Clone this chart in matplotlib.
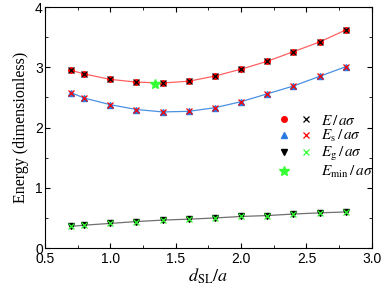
import matplotlib
matplotlib.use("Agg")
import matplotlib.pyplot as plt
from matplotlib.lines import Line2D
from matplotlib.legend_handler import HandlerTuple
from matplotlib.ticker import MultipleLocator

# data
d = [0.7, 0.8, 1.0, 1.2, 1.4, 1.6, 1.8, 2.0, 2.2, 2.4, 2.6, 2.8]
E = [2.95, 2.89, 2.80, 2.755, 2.74, 2.77, 2.855, 2.97, 3.10, 3.26, 3.42, 3.62]
Es = [2.58, 2.49, 2.38, 2.30, 2.26, 2.27, 2.33, 2.43, 2.56, 2.69, 2.85, 3.01]
Eg = [0.36, 0.38, 0.41, 0.44, 0.465, 0.48, 0.50, 0.525, 0.54, 0.565, 0.585, 0.60]
d_min = [1.34]
E_min = [2.72]

plt.rcParams['mathtext.fontset'] = 'stix'

fig = plt.figure(figsize=(3.81, 2.95), dpi=100)
ax = fig.add_axes([0.118, 0.159, 0.858, 0.817])

ax.plot(d, E, color='#ff6060', lw=0.9, zorder=1)
ax.plot(d, Es, color='#4a90e2', lw=0.9, zorder=1)
ax.plot(d, Eg, color='#707070', lw=0.9, zorder=1)

ms = 4
ax.plot(d, E, 'o', color='red', ms=ms, zorder=2)
ax.plot(d, E, 'x', color='black', ms=ms, mew=0.9, zorder=3)
ax.plot(d, Es, '^', color='#2a7ae2', ms=ms, zorder=2)
ax.plot(d, Es, 'x', color='red', ms=ms, mew=0.9, zorder=3)
ax.plot(d, Eg, 'v', color='black', ms=ms, zorder=2)
ax.plot(d, Eg, 'x', color='#33ff33', ms=ms, mew=0.9, zorder=3)
ax.plot(d_min, E_min, '*', color='#33ff33', ms=7, zorder=4)

ax.set_xlim(0.5, 3.0)
ax.set_ylim(0, 4)
ax.xaxis.set_minor_locator(MultipleLocator(0.25))
ax.yaxis.set_minor_locator(MultipleLocator(0.5))
ax.tick_params(which='both', direction='in', top=True, right=True,
               labelsize=10, pad=1.5)
ax.tick_params(axis='x', pad=2.5)
ax.tick_params(which='major', length=3.5)
ax.tick_params(which='minor', length=2)
ax.set_xticks([0.5, 1.0, 1.5, 2.0, 2.5, 3.0])
ax.set_xticklabels(['0.5', '1.0', '1.5', '2.0', '2.5', '3.0'], family='Liberation Sans')
ax.set_yticks([0, 1, 2, 3, 4])
ax.set_yticklabels(['0', '1', '2', '3', '4'], family='Liberation Sans')

ax.set_xlabel(r'$d_{\mathrm{SL}}/a$', fontsize=13, labelpad=1)
ax.set_ylabel('Energy (dimensionless)', family='Liberation Serif', fontsize=11.5, labelpad=4)

blank = Line2D([], [], ls='none', marker='None')
h1 = (Line2D([], [], ls='none', marker='o', color='red', ms=ms),
      Line2D([], [], ls='none', marker='x', color='black', ms=ms, mew=0.9))
h2 = (Line2D([], [], ls='none', marker='^', color='#2a7ae2', ms=ms),
      Line2D([], [], ls='none', marker='x', color='red', ms=ms, mew=0.9))
h3 = (Line2D([], [], ls='none', marker='v', color='black', ms=ms),
      Line2D([], [], ls='none', marker='x', color='#33ff33', ms=ms, mew=0.9))
h4 = (Line2D([], [], ls='none', marker='*', color='#33ff33', ms=7), blank)
labels = [r'$E\,/\,a\sigma$', r'$E_{\mathrm{s}}\,/\,a\sigma$',
          r'$E_{\mathrm{g}}\,/\,a\sigma$', r'$E_{\mathrm{min}}\,/\,a\sigma$']
ax.legend([h1, h2, h3, h4], labels, handler_map={tuple: HandlerTuple(ndivide=None, pad=0)},
          loc='upper left', bbox_to_anchor=(0.673, 0.594), frameon=False,
          fontsize=11, handlelength=2.9, handletextpad=0.3, labelspacing=0.05,
          borderpad=0)

fig.savefig('out.png', dpi=100)
